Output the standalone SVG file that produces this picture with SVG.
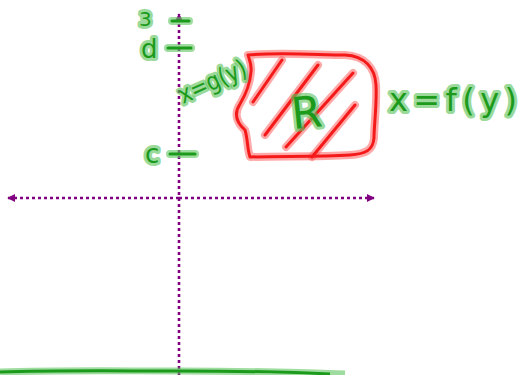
<svg xmlns="http://www.w3.org/2000/svg" width="521" height="375" viewBox="0 0 521 375">
<style>
.ax{stroke:#800080;stroke-width:2.6;stroke-dasharray:3 3;fill:none}
.lbl{font-family:"DejaVu Sans","Liberation Sans",sans-serif;fill:#1c9a1c;stroke:#5fc45f;stroke-opacity:.65;stroke-width:6;paint-order:stroke fill;stroke-linejoin:round}
.tick{stroke:#1c9a1c;stroke-width:3;stroke-linecap:round}
.tickh{stroke:#5fc45f;stroke-opacity:.6;stroke-width:8;stroke-linecap:round}
.redh{fill:none;stroke:#ff6060;stroke-opacity:.55;stroke-width:8;stroke-linecap:round;stroke-linejoin:round}
.red{fill:none;stroke:#f51a1a;stroke-width:3;stroke-linecap:round;stroke-linejoin:round}
</style>
<defs>
<marker id="ah" viewBox="0 0 10 10" refX="9" refY="5" markerWidth="3.2" markerHeight="3.2" orient="auto" markerUnits="strokeWidth">
<path d="M0,0 L10,5 L0,10 z" fill="#800080"/>
</marker>
<path id="outline" d="M248,55 C280,52 320,55 345,55 C365,56 375,68 376,85 C377,105 374,125 374,138 C373,150 366,154 350,155 C320,157 280,156 250,157 C247,148 248,140 245,130 C236,122 234,113 240,104 C246,94 250,84 251,72 C252,64 249,59 248,55 Z"/>
<path id="hatch" d="M253,102 L282,60 M265,135 L318,65 M286,147 L353,73 M312,157 L355,105"/>
</defs>
<g id="connectors">
<line class="ax" x1="179" y1="375" x2="179" y2="14" marker-end="url(#ah)"/>
<line class="ax" x1="179" y1="198" x2="374" y2="198" marker-end="url(#ah)"/>
<line class="ax" x1="179" y1="198" x2="8" y2="198" marker-end="url(#ah)"/>
</g>
<g id="ground">
<path d="M0,372 C60,370 120,371 180,371 C240,371 290,372 345,374" fill="none" stroke="#5fc45f" stroke-opacity=".6" stroke-width="7"/>
<path d="M0,372 C60,370 120,371 180,371 C240,371 290,372 330,374" fill="none" stroke="#1c9a1c" stroke-width="3"/>
</g>
<g id="region-R">
<use href="#outline" class="redh"/>
<use href="#hatch" class="redh"/>
<use href="#outline" class="red"/>
<use href="#hatch" class="red"/>
<text class="lbl" x="291" y="128" font-size="44" transform="rotate(-6 305 110)">R</text>
</g>
<g id="tick-3">
<line class="tickh" x1="172" y1="21" x2="189" y2="21"/>
<line class="tick" x1="172" y1="21" x2="189" y2="21"/>
<text class="lbl" x="139" y="26" font-size="20">3</text>
</g>
<g id="tick-d">
<line class="tickh" x1="168" y1="48" x2="191" y2="48"/>
<line class="tick" x1="168" y1="48" x2="191" y2="48"/>
<text class="lbl" x="141" y="58" font-size="26">d</text>
</g>
<g id="tick-c">
<line class="tickh" x1="170" y1="154" x2="195" y2="154"/>
<line class="tick" x1="170" y1="154" x2="195" y2="154"/>
<text class="lbl" x="145" y="163" font-size="26">c</text>
</g>
<g id="label-g">
<text class="lbl" x="183" y="104" font-size="25" textLength="72" lengthAdjust="spacingAndGlyphs" transform="rotate(-24 183 104)">x=g(y)</text>
</g>
<g id="label-f">
<text class="lbl" x="389" y="111" font-size="32" textLength="128" lengthAdjust="spacing">x=f(y)</text>
</g>
</svg>
